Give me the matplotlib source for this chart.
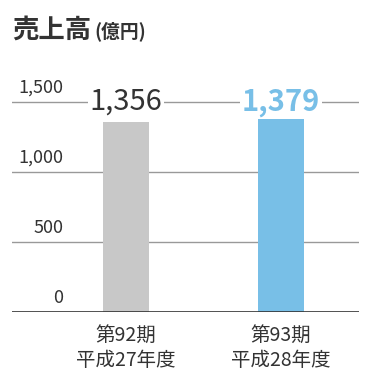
import matplotlib.pyplot as plt

plt.rcParams['font.family'] = ['Noto Sans CJK JP', 'DejaVu Sans']

# データ
periods = ["第92期\n平成27年度", "第93期\n平成28年度"]
sales = [1356, 1379]
labels = ["1,356", "1,379"]
bar_colors = ["#c8c8c8", "#78bfe7"]
label_colors = ["#333333", "#78bfe7"]
label_weights = ["normal", "bold"]
yticks = [0, 500, 1000, 1500]
ytick_labels = ["0", "500", "1,000", "1,500"]

fig = plt.figure(figsize=(3.7, 3.8), dpi=100)
ax = fig.add_axes([12 / 370, 68 / 380, 347 / 370, 252 / 380])

x = range(len(sales))
ax.set_xlim(-0.735, 1.503)
ax.set_ylim(0, 1800)

# グリッド線
for v in yticks[1:]:
    ax.axhline(v, color="#999999", lw=1, zorder=1)
ax.axhline(0, color="#333333", lw=1.2, zorder=3)

ax.bar(x, sales, width=0.297, color=bar_colors, zorder=2)

# 数値ラベル
for i, (v, t) in enumerate(zip(sales, labels)):
    ax.text(i, 1500, t, ha="center", va="center", fontsize=21,
            color=label_colors[i], fontweight=label_weights[i], zorder=4,
            bbox=dict(facecolor="white", edgecolor="none", pad=1))

# y軸ラベル（線の上）
for v, t in zip(yticks, ytick_labels):
    ax.text(0.148, v + 100, t, transform=ax.get_yaxis_transform(),
            ha="right", va="center", fontsize=13, color="#333333")

ax.set_xticks(list(x))
ax.set_xticklabels(periods, fontsize=14, color="#333333", linespacing=1.3)
ax.tick_params(axis="x", length=0, pad=9)
ax.set_yticks([])
for s in ax.spines.values():
    s.set_visible(False)

fig.text(12 / 370, 1 - 30 / 380, "売上高", fontsize=19, fontweight="bold",
         color="#333333", va="center", ha="left")
fig.text(94 / 370, 1 - 31 / 380, "(億円)", fontsize=13.5, fontweight="bold",
         color="#333333", va="center", ha="left")

fig.savefig("out.png", dpi=100, facecolor="white")
